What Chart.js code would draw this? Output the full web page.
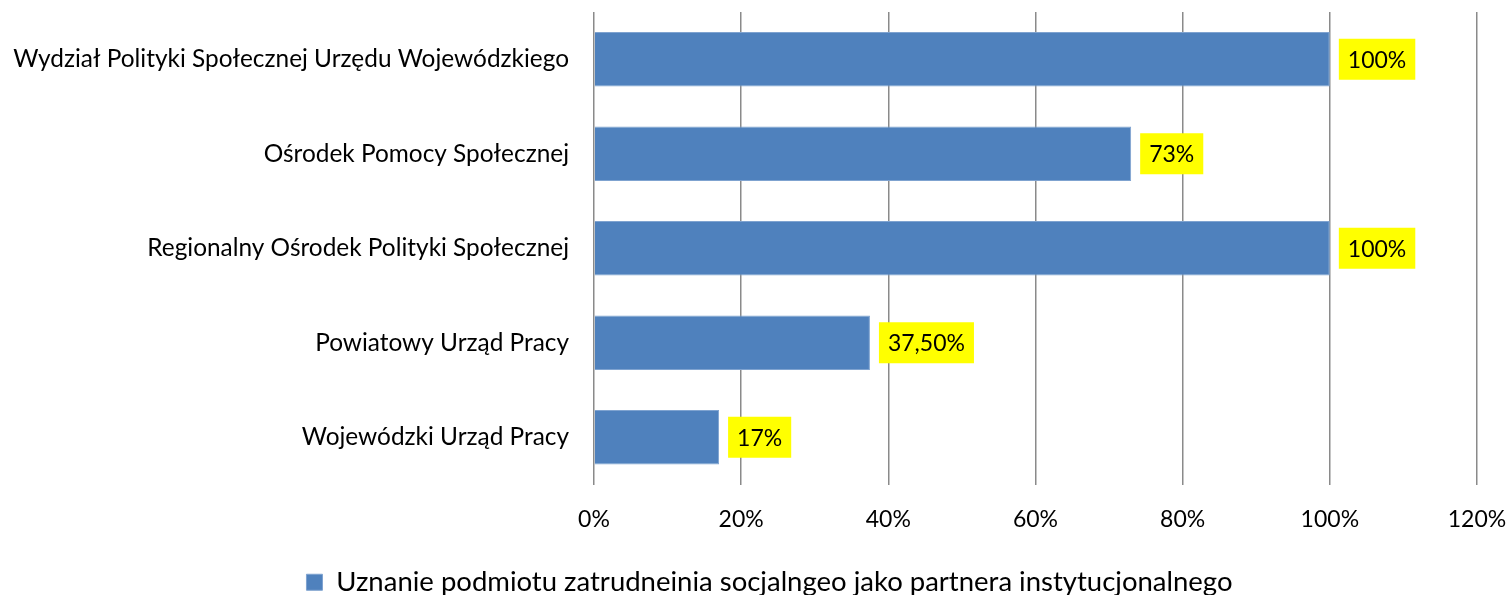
<!DOCTYPE html>
<html lang="pl">
<head>
  <meta charset="UTF-8">
  <title>Uznanie podmiotu zatrudnienia socjalnego</title>
  <script src="https://cdn.jsdelivr.net/npm/chart.js"></script>
  <style>
    html, body { margin: 0; padding: 0; background: #fff; }
    .chart-box { width: 1510px; height: 595px; position: relative; }
  </style>
</head>
<body>
  <div class="chart-box">
    <canvas id="barChart"></canvas>
  </div>

  <script>
    // data
    const categories = [
      'Wydział Polityki Społecznej Urzędu Wojewódzkiego',
      'Ośrodek Pomocy Społecznej',
      'Regionalny Ośrodek Polityki Społecznej',
      'Powiatowy Urząd Pracy',
      'Wojewódzki Urząd Pracy'
    ];
    const values = [100, 73, 100, 37.5, 17];
    const valueLabels = ['100%', '73%', '100%', '37,50%', '17%'];
    const seriesName = 'Uznanie podmiotu zatrudneinia socjalngeo jako partnera instytucjonalnego';
    const tickValues = [0, 20, 40, 60, 80, 100, 120];

    const FONT = 'Lato, "Open Sans", sans-serif';

    // yellow value boxes to the right of each bar
    const valueBoxes = {
      id: 'valueBoxes',
      afterDatasetsDraw(chart) {
        const ctx = chart.ctx;
        const meta = chart.getDatasetMeta(0);
        ctx.save();
        ctx.font = '23px ' + FONT;
        ctx.textBaseline = 'middle';
        ctx.textAlign = 'left';
        meta.data.forEach(function(bar, i) {
          const txt = valueLabels[i];
          const w = ctx.measureText(txt).width + 18;
          const h = 41;
          const x = bar.x + 9;
          const y = bar.y - h / 2;
          ctx.fillStyle = '#FFFF00';
          ctx.fillRect(x, y, w, h);
          ctx.fillStyle = '#000';
          ctx.fillText(txt, x + 9, bar.y + 1);
        });
        ctx.restore();
      }
    };

    // the legend in the original sits a bit right of the page centre
    const legendShift = {
      id: 'legendShift',
      afterLayout(chart) {
        if (chart.legend) chart.legend.left = 62;
      }
    };

    const ctx = document.getElementById('barChart').getContext('2d');
    const chart = new Chart(ctx, {
      type: 'bar',
      data: {
        labels: categories,
        datasets: [{
          label: seriesName,
          data: values,
          backgroundColor: '#4F81BD',
          borderColor: '#7FA3D0',
          borderWidth: 1,
          categoryPercentage: 1,
          barPercentage: 0.575
        }]
      },
      options: {
        indexAxis: 'y',
        responsive: true,
        maintainAspectRatio: false,
        animation: false,
        layout: { padding: { top: 12, right: 33, left: 0, bottom: -11 } },
        scales: {
          x: {
            min: 0,
            max: 120,
            afterBuildTicks: function(scale) {
              scale.ticks = tickValues.map(v => ({ value: v }));
            },
            afterFit: function(scale) {
              scale.height = 80;
              scale.paddingLeft = 0;
              scale.paddingRight = 0;
            },
            grid: { color: '#8A8A8A', lineWidth: 1.5, drawTicks: false },
            border: { display: false },
            ticks: {
              padding: 21,
              color: '#000',
              font: { family: FONT, size: 23 },
              callback: v => v + '%'
            }
          },
          y: {
            afterFit: function(scale) {
              scale.width = 594;
              scale.paddingTop = 0;
              scale.paddingBottom = 0;
            },
            grid: { display: false, drawTicks: false },
            border: { display: false },
            ticks: {
              padding: 25,
              color: '#000',
              font: { family: FONT, size: 24.4 }
            }
          }
        },
        plugins: {
          legend: {
            position: 'bottom',
            labels: {
              color: '#000',
              font: { family: FONT, size: 27.5 },
              boxWidth: 16,
              boxHeight: 16,
              padding: 4
            }
          },
          tooltip: { enabled: false }
        }
      },
      plugins: [valueBoxes, legendShift]
    });
  </script>
</body>
</html>
